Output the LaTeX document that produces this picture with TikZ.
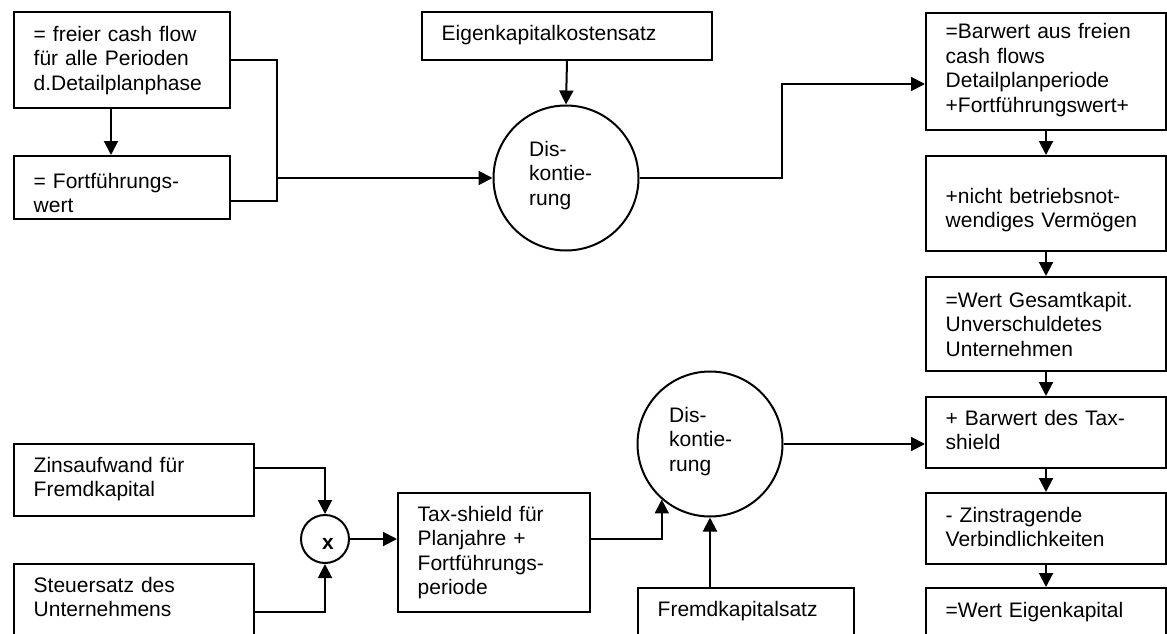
\documentclass[tikz,border=0pt]{standalone}
\usepackage{fontspec}
\setmainfont{Liberation Sans}
\usetikzlibrary{arrows.meta,calc}

\tikzset{
  box/.style={draw, rectangle, line width=2pt, inner sep=0pt, anchor=north west},
  txt/.style={inner sep=0pt, anchor=base west, align=left, text width=230pt,
    font=\fontsize{21}{24.5}\selectfont},
  disc/.style={draw, circle, line width=2pt, minimum size=145pt, inner sep=0pt},
  wire/.style={line width=2pt},
  flow/.style={wire, -{Triangle[length=14pt,width=14pt]}},
}

% #1 name, #2/#3 top left corner, #4/#5 bottom right corner,
% #6 baseline of the first text line, #7 text
\newcommand\flowbox[7]{%
  \node[box, minimum width={#4-#2}, minimum height={#5-#3}] (#1) at (#2,#3) {};
  \node[txt] (#1-t) at (#2+20.5,#6) {#7};
}

\begin{document}
\begin{tikzpicture}[x=1pt,y=-1pt]
\useasboundingbox (0,0) rectangle (1167,634);
\fill[white] (0,0) rectangle (1167,634);
\clip (0,0) rectangle (1167,634);

% upper part: free cash flows
\flowbox{fcf}{13}{11}{229}{107}{41.5}{= freier cash flow\\für alle Perioden\\d.Detailplanphase}
\flowbox{fw}{13}{155}{229}{218}{188}{= Fortführungs-\\wert}
\flowbox{ek}{421}{11}{711}{59}{41}{Eigenkapitalkostensatz}

% right column
\flowbox{bw}{925}{12}{1165}{129}{39}{=Barwert aus freien\\cash flows\\Detailplanperiode\\+Fortführungswert+}
\flowbox{nbv}{925}{155}{1165}{250}{203}{+nicht betriebsnot-\\wendiges Vermögen}
\flowbox{gk}{925}{276}{1165}{370}{307}{=Wert Gesamtkapit.\\Unverschuldetes\\Unternehmen}
\flowbox{ts}{925}{396}{1165}{467}{425}{+ Barwert des Tax-\\shield}
\flowbox{zv}{925}{492}{1165}{563}{522}{- Zinstragende\\Verbindlichkeiten}
\flowbox{wek}{925}{587}{1165}{660}{617}{=Wert Eigenkapital}

% lower part: tax shield
\flowbox{za}{13}{443}{253}{515}{472}{Zinsaufwand für\\Fremdkapital}
\flowbox{st}{13}{563}{253}{659}{592}{Steuersatz des\\Unternehmens}
\flowbox{tx}{397}{492}{589}{611}{521}{Tax-shield für\\Planjahre +\\Fortführungs-\\periode}
\flowbox{fk}{637}{587}{853}{660}{616}{Fremdkapitalsatz}

% discounting and multiplication
\node[disc] (d1) at (566,178) {};
\node[txt] (d1-t) at (529,156) {Dis-\\kontie-\\rung};
\node[disc] (d2) at (710,444) {};
\node[txt] (d2-t) at (669,422) {Dis-\\kontie-\\rung};
\node[disc, minimum size=48pt] (mul) at (325,539) {};
\node[inner sep=0pt, font=\bfseries\fontsize{21}{24}\selectfont] (mul-t) at (328,543.5) {x};

% connectors, upper part
\coordinate (jx) at (277,0);
\coordinate (kx) at (782,0);
\coordinate (fwout) at ([yshift=-13.5pt]fw.east);
\coordinate (bwin) at ([yshift=-12.5pt]bw.west);
\draw[flow] ([xshift=-11pt]fcf.south) -- ([xshift=-11pt]fw.north);
\draw[wire] (fcf.east) -| (jx |- fwout) -- (fwout);
\draw[flow] (jx |- d1.west) -- (d1.west);
\draw[flow] (ek.south) -- (d1.north);
\draw[flow] (d1.east) -| (kx |- bwin) -- (bwin);

% connectors, right column
\draw[flow] (bw.south) -- (nbv.north);
\draw[flow] (nbv.south) -- (gk.north);
\draw[flow] (gk.south) -- (ts.north);
\draw[flow] (ts.south) -- (zv.north);
\draw[flow] (zv.south) -- (wek.north);
\draw[flow] (d2.east) -- (d2.east -| ts.west);

% connectors, lower part
\coordinate (zaout) at ([yshift=12pt]za.east);
\draw[flow] (zaout) -| (mul.north);
\draw[flow] (st.east) -| (mul.south);
\draw[flow] (mul.east) -- (mul.east -| tx.west);
\draw[flow] (mul.east -| tx.east) -| (d2.-131.8);
\draw[flow] (d2.south |- fk.north) -- (d2.south);
\end{tikzpicture}
\end{document}
